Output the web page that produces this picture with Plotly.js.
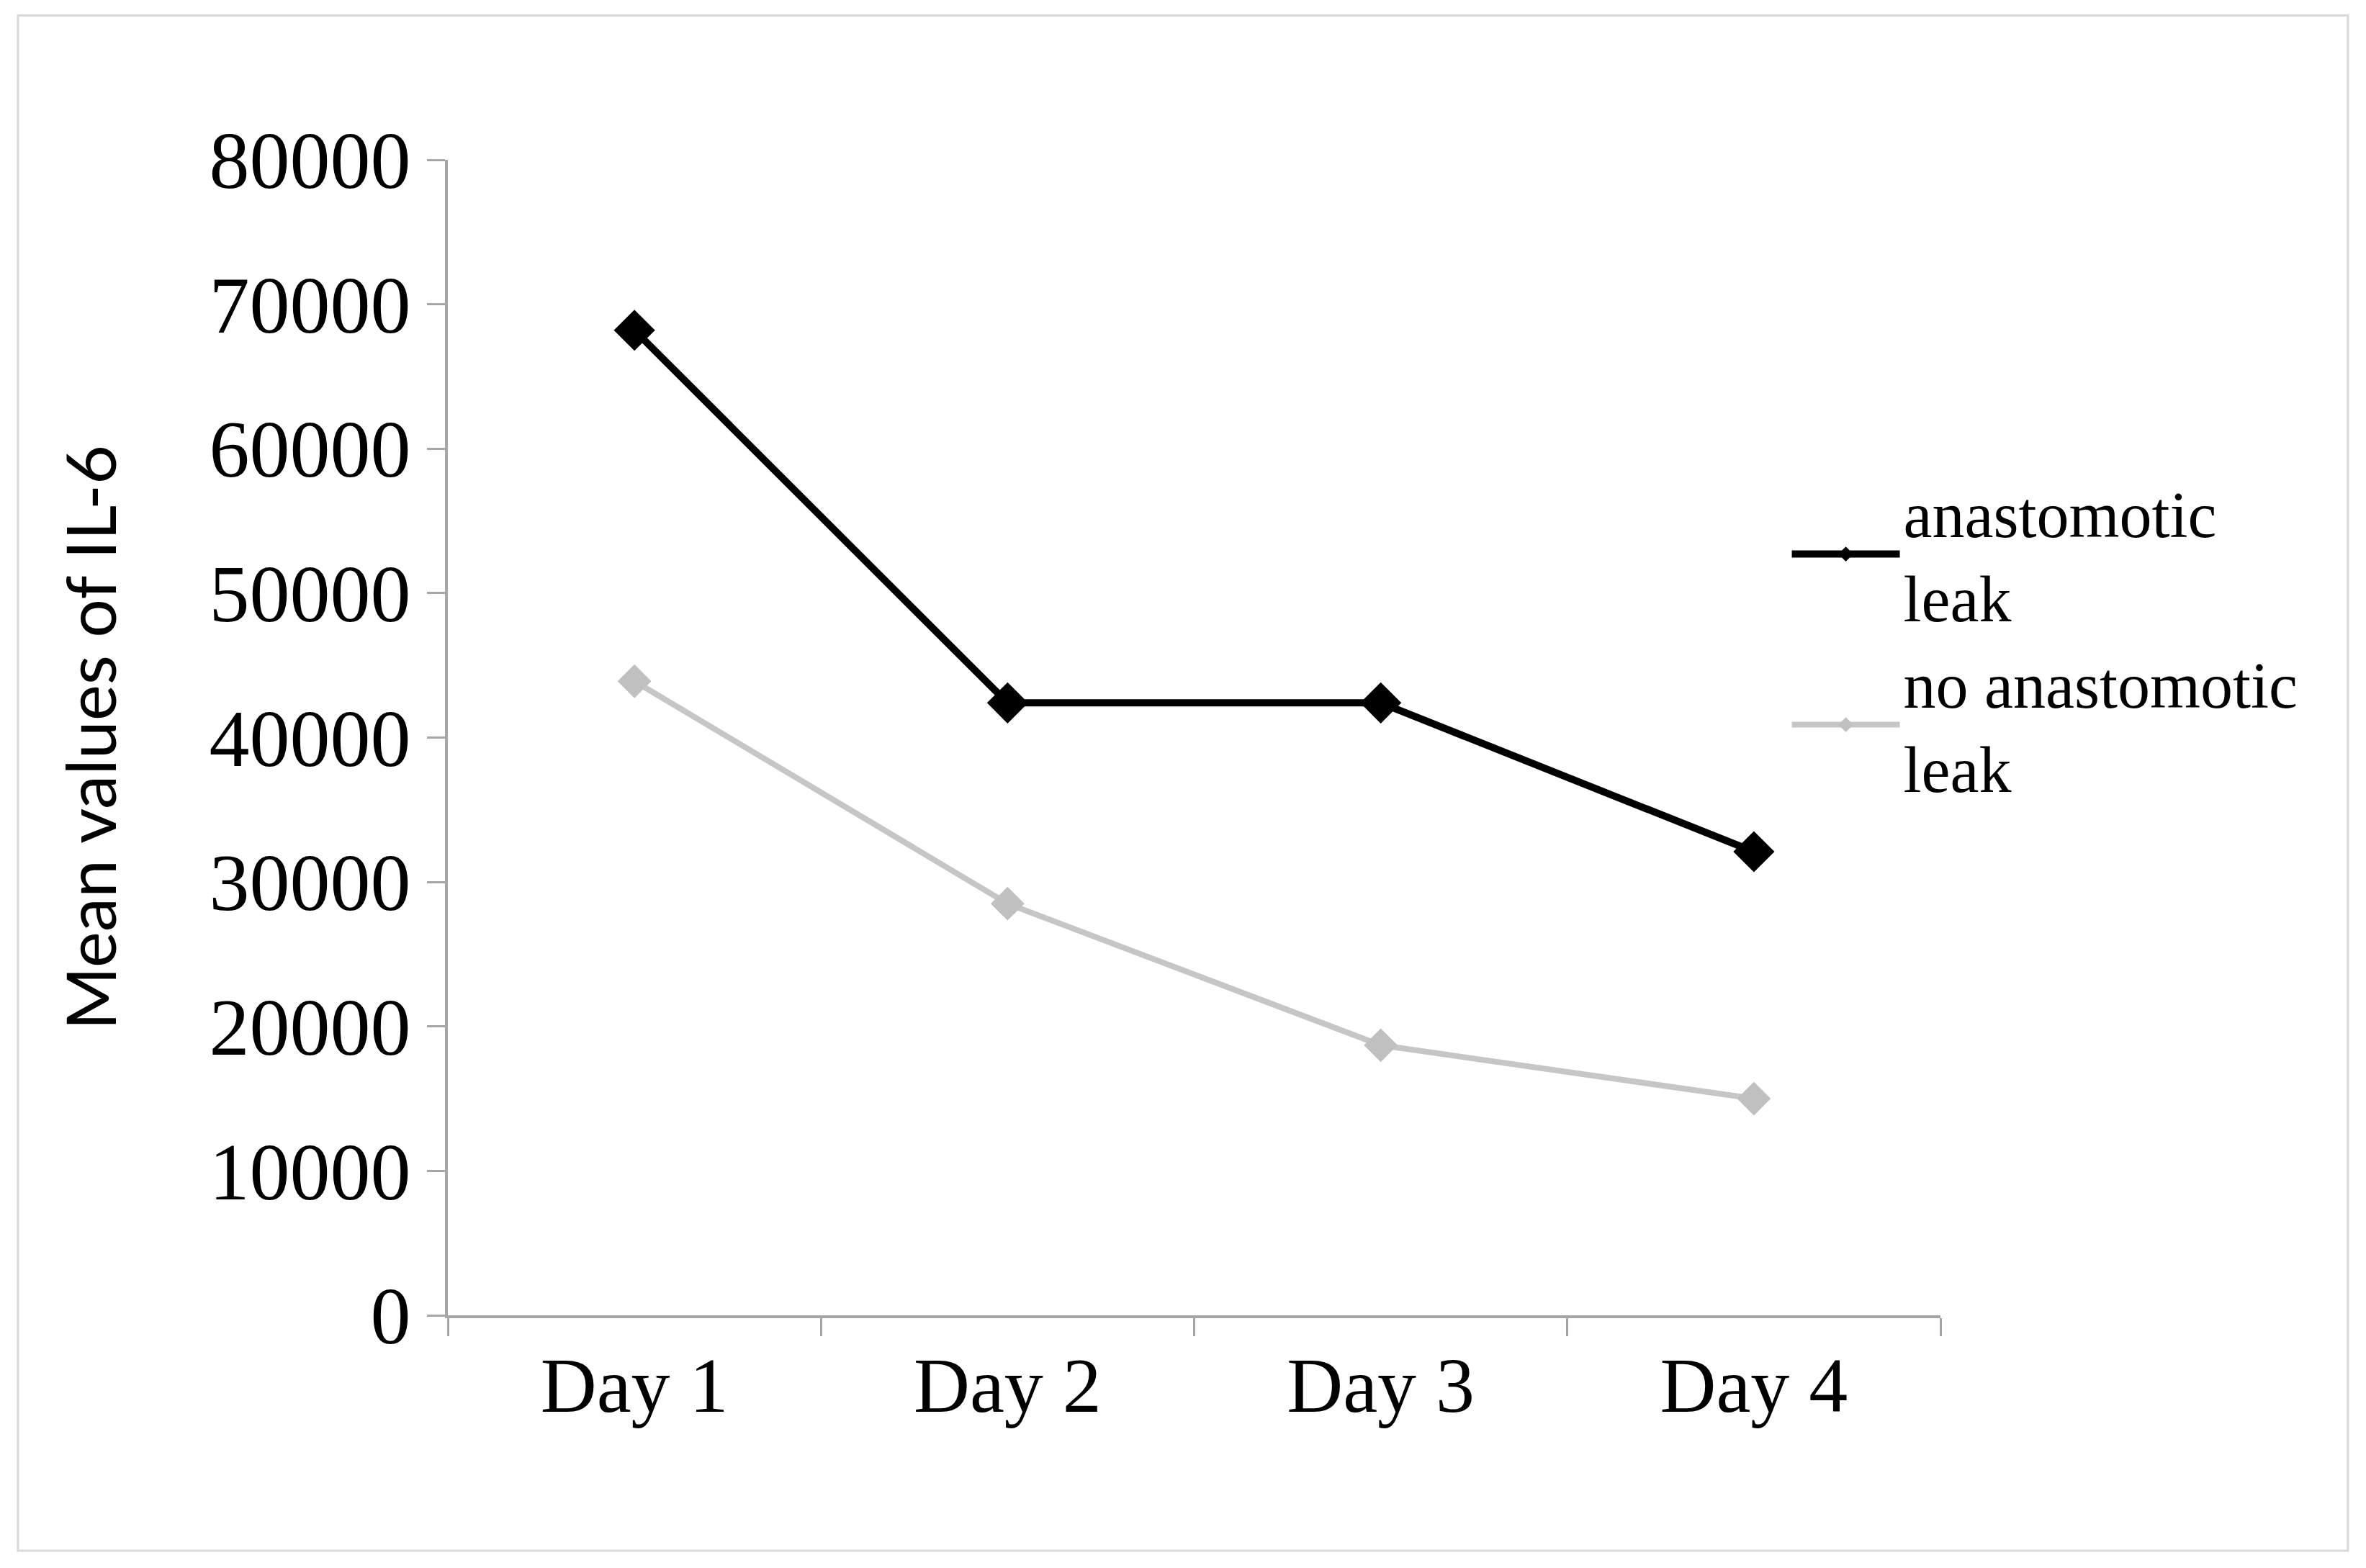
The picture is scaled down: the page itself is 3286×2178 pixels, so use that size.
<!DOCTYPE html>
<html>
<head>
<meta charset="utf-8">
<script src="https://cdn.plot.ly/plotly-3.0.1.min.js"></script>
<style>html,body{margin:0;padding:0;background:#fff;}#chart{width:3286px;height:2178px;}</style>
</head>
<body>
<div id="chart"></div>
<script>
const days = ["Day 1", "Day 2", "Day 3", "Day 4"];
const leakValues = [68200, 42400, 42400, 32100];
const noLeakValues = [43900, 28500, 18700, 15000];
const seriesNames = ["anastomotic<br>leak", "no anastomotic<br>leak"];
const yTickValues = [0, 10000, 20000, 30000, 40000, 50000, 60000, 70000, 80000];
const yTitle = "Mean values of IL-6";

const traces = [
  {
    x: days, y: leakValues, name: seriesNames[0], type: "scatter", mode: "lines+markers",
    line: {color: "#000000", width: 10},
    marker: {symbol: "diamond", size: 44, color: "#000000"}
  },
  {
    x: days, y: noLeakValues, name: seriesNames[1], type: "scatter", mode: "lines+markers",
    line: {color: "#c6c6c6", width: 8},
    marker: {symbol: "diamond", size: 36, color: "#c0c0c0"}
  }
];

const layout = {
  width: 3286, height: 2178,
  paper_bgcolor: "#ffffff", plot_bgcolor: "#ffffff",
  margin: {l: 622, r: 591, t: 222, b: 351},
  showlegend: true,
  legend: {
    x: 0.898, xanchor: "left", y: 0.585, yanchor: "middle",
    font: {family: "Liberation Serif", size: 90, color: "#000"},
    itemwidth: 150, tracegroupgap: 0, bgcolor: "rgba(0,0,0,0)"
  },
  xaxis: {
    type: "category", range: [-0.5, 3.5],
    showline: true, linecolor: "#a6a6a6", linewidth: 4,
    ticks: "outside", tickson: "boundaries", ticklen: 25, tickwidth: 3, tickcolor: "#a6a6a6",
    showgrid: false, zeroline: false,
    tickfont: {family: "Liberation Serif", size: 108, color: "#000"}
  },
  yaxis: {
    range: [0, 80000], tickvals: yTickValues,
    showline: true, linecolor: "#a6a6a6", linewidth: 4,
    ticks: "outside", ticklen: 25, tickwidth: 3, tickcolor: "#a6a6a6",
    showgrid: false, zeroline: false, tickformat: "d",
    tickfont: {family: "Liberation Serif", size: 112, color: "#000"},
    title: {text: yTitle, font: {family: "Lato", size: 95, color: "#000"}, standoff: 98}
  },
  shapes: [
    {type: "rect", xref: "paper", yref: "paper", x0: -0.288, x1: 1.273, y0: -0.2037, y1: 1.125,
     line: {color: "#d9d9d9", width: 3}, fillcolor: "rgba(0,0,0,0)", layer: "below"}
  ]
};

Plotly.newPlot("chart", traces, layout, {displayModeBar: false, staticPlot: true});
</script>
</body>
</html>
